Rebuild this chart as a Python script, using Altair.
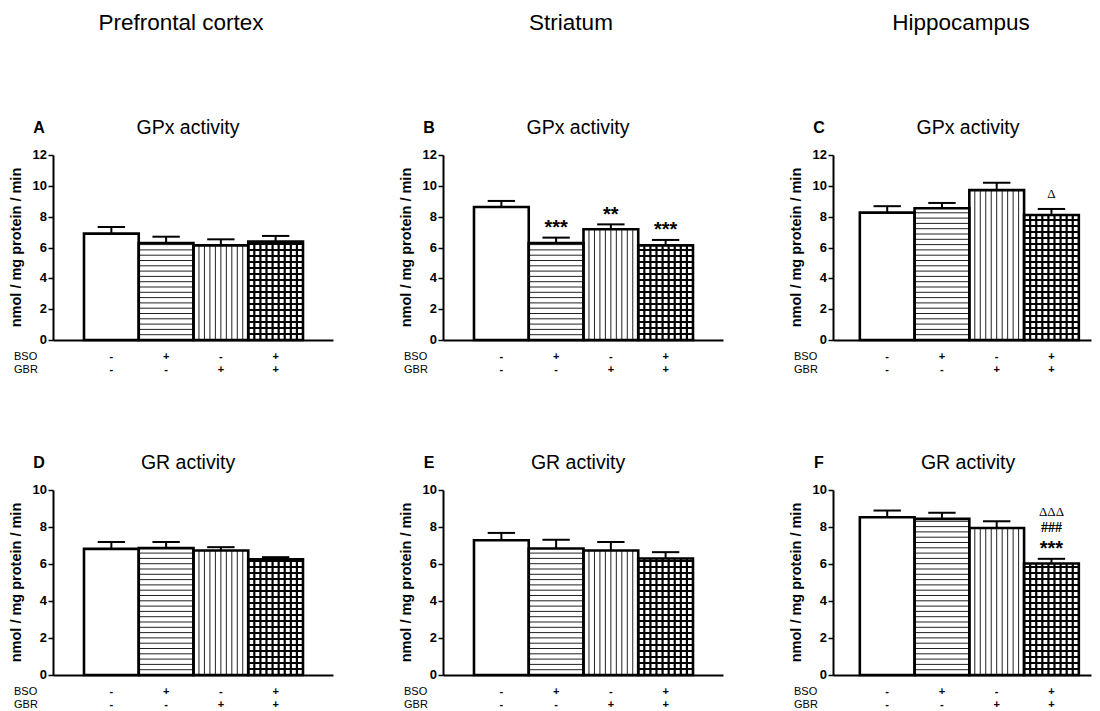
import altair as alt
import pandas as pd

FONT = "Liberation Sans"
SERIF = "Liberation Serif"

# ---- data ----
bso = ["-", "+", "-", "+"]
gbr = ["-", "-", "+", "+"]
regions = ["Prefrontal cortex", "Striatum", "Hippocampus"]
panel_letters = ["A", "B", "C", "D", "E", "F"]
panel_titles = ["GPx activity", "GPx activity", "GPx activity",
                "GR activity", "GR activity", "GR activity"]
y_title = "nmol / mg protein / min"
y_max = [12, 12, 12, 10, 10, 10]
y_ticks_gpx = [0, 2, 4, 6, 8, 10, 12]
y_ticks_gr = [0, 2, 4, 6, 8, 10]
y_ticks = [y_ticks_gpx, y_ticks_gpx, y_ticks_gpx, y_ticks_gr, y_ticks_gr, y_ticks_gr]

gpx_pfc_mean = [6.90, 6.29, 6.14, 6.38]
gpx_pfc_sem = [0.43, 0.41, 0.39, 0.37]
gpx_str_mean = [8.63, 6.29, 7.18, 6.14]
gpx_str_sem = [0.39, 0.35, 0.32, 0.35]
gpx_hip_mean = [8.26, 8.55, 9.72, 8.11]
gpx_hip_sem = [0.42, 0.34, 0.48, 0.39]
gr_pfc_mean = [6.82, 6.86, 6.73, 6.26]
gr_pfc_sem = [0.37, 0.33, 0.18, 0.11]
gr_str_mean = [7.28, 6.84, 6.73, 6.30]
gr_str_sem = [0.40, 0.47, 0.46, 0.34]
gr_hip_mean = [8.53, 8.44, 7.95, 6.03]
gr_hip_sem = [0.36, 0.33, 0.36, 0.25]

means = [gpx_pfc_mean, gpx_str_mean, gpx_hip_mean, gr_pfc_mean, gr_str_mean, gr_hip_mean]
sems = [gpx_pfc_sem, gpx_str_sem, gpx_hip_sem, gr_pfc_sem, gr_str_sem, gr_hip_sem]

# significance marks, bottom line first
annot_B = [["", "***", "**", "***"]]
annot_C = [["", "", "", "\u0394"]]
annot_F = [["", "", "", "***"], ["", "", "", "###"], ["", "", "", "\u0394\u0394\u0394"]]
annotations = [[], annot_B, annot_C, [], [], annot_F]

# ---- layout / style ----
H = 185
BAR_PX = 54.75
col_width = [280, 280, 258]
col_left_gap = [0.566, 0.566, 0.49]
STRIPE_PX = 5.3
GRID_PX = 6.0
V_STRIPES = 10
GRID_COLS = 9


def sym_style(s):
    if "*" in s:
        return dict(font=FONT, fontSize=20, fontWeight="bold", adj=5.5)
    if "#" in s:
        return dict(font=SERIF, fontSize=14, fontWeight="bold", adj=0.5)
    return dict(font=SERIF, fontSize=13, fontWeight="normal", adj=0.4)


def panel(k):
    col = k % 3
    W = col_width[col]
    x0d = -col_left_gap[col]
    xdom = [x0d, x0d + W / BAR_PX]
    ymax = y_max[k]
    m = means[k]
    s = sems[k]
    xs = alt.Scale(domain=xdom, nice=False, zero=False)
    ys = alt.Scale(domain=[0, ymax], nice=False, zero=True)

    bars = pd.DataFrame({
        "x0": [i for i in range(4)],
        "x1": [i + 1 for i in range(4)],
        "xc": [i + 0.5 for i in range(4)],
        "cap0": [i + 0.25 for i in range(4)],
        "cap1": [i + 0.75 for i in range(4)],
        "mean": m,
        "top": [a + b for a, b in zip(m, s)],
        "bso": bso,
        "gbr": gbr,
    })

    # hatch geometry derived from bar values
    st = STRIPE_PX * ymax / H
    gs = GRID_PX * ymax / H
    hs_rows = []
    j = 1
    while j * st < m[1] - 0.02:
        hs_rows.append({"x0": 1, "x1": 2, "y": j * st})
        j += 1
    hg_rows = []
    j = 1
    while j * gs < m[3] - 0.05:
        hg_rows.append({"x0": 3, "x1": 4, "y": j * gs})
        j += 1
    vs_rows = [{"x": 2 + q / V_STRIPES, "y0": 0, "y1": m[2]} for q in range(1, V_STRIPES)]
    vg_rows = [{"x": 3 + q / GRID_COLS, "y0": 0, "y1": m[3]} for q in range(1, GRID_COLS)]

    xaxis = alt.Axis(domain=True, ticks=False, labels=False, grid=False, title=None,
                     domainWidth=2, domainColor="black")
    yaxis = alt.Axis(values=y_ticks[k], grid=False, title=None, labels=False,
                     tickSize=5, tickWidth=1.5, tickColor="black",
                     domainWidth=2, domainColor="black")

    X = lambda f: alt.X(f, scale=xs, axis=xaxis)
    Y = lambda f: alt.Y(f, scale=ys, axis=yaxis)

    base = alt.Chart(bars)
    layers = []
    layers.append(base.mark_rect(fill="white", strokeWidth=0).encode(
        x=X("x0:Q"), x2="x1:Q", y=Y("mean:Q"), y2=alt.datum(0)))
    layers.append(alt.Chart(pd.DataFrame(hs_rows)).mark_rule(color="#222", strokeWidth=1).encode(
        x=X("x0:Q"), x2="x1:Q", y=Y("y:Q")))
    layers.append(alt.Chart(pd.DataFrame(vs_rows)).mark_rule(color="#222", strokeWidth=1).encode(
        x=X("x:Q"), y=Y("y0:Q"), y2="y1:Q"))
    layers.append(alt.Chart(pd.DataFrame(hg_rows)).mark_rule(color="black", strokeWidth=2.2).encode(
        x=X("x0:Q"), x2="x1:Q", y=Y("y:Q")))
    layers.append(alt.Chart(pd.DataFrame(vg_rows)).mark_rule(color="black", strokeWidth=2.2).encode(
        x=X("x:Q"), y=Y("y0:Q"), y2="y1:Q"))
    layers.append(base.mark_rect(fillOpacity=0, stroke="black", strokeWidth=2.6).encode(
        x=X("x0:Q"), x2="x1:Q", y=Y("mean:Q"), y2=alt.datum(0)))
    layers.append(base.mark_rule(color="black", strokeWidth=2).encode(
        x=X("xc:Q"), y=Y("mean:Q"), y2="top:Q"))
    layers.append(base.mark_rule(color="black", strokeWidth=2).encode(
        x=X("cap0:Q"), x2="cap1:Q", y=Y("top:Q")))

    # y tick labels and y title as text
    layers.append(alt.Chart(pd.DataFrame({"v": y_ticks[k]})).mark_text(
        font=FONT, fontSize=13, fontWeight="bold", color="black", align="right",
        baseline="middle").encode(x=alt.value(-6), y=Y("v:Q"), text=alt.Text("v:Q", format="d")))
    layers.append(alt.Chart(pd.DataFrame({"t": [y_title]})).mark_text(
        font=FONT, fontSize=14.5, fontWeight="bold", color="black", align="center",
        baseline="middle", angle=270).encode(x=alt.value(-36), y=alt.value(H / 2), text="t:N"))

    # significance annotations
    for lvl, row in enumerate(annotations[k]):
        df = pd.DataFrame({"xc": [i + 0.5 for i in range(4)], "top": bars["top"], "t": row})
        df = df[df["t"] != ""]
        stl = sym_style(df["t"].iloc[0])
        layers.append(alt.Chart(df).mark_text(
            font=stl["font"], fontSize=stl["fontSize"], fontWeight=stl["fontWeight"],
            baseline="middle", align="center", color="black",
            dy=-(15 + 16 * lvl) + stl["adj"]).encode(
            x=X("xc:Q"), y=Y("top:Q"), text="t:N"))

    # treatment rows under the axis
    layers.append(base.mark_text(font=FONT, fontSize=11, fontWeight="bold", color="black",
                                 baseline="middle").encode(
        x=X("xc:Q"), y=alt.value(H + 17), text="bso:N"))
    layers.append(base.mark_text(font=FONT, fontSize=11, fontWeight="bold", color="black",
                                 baseline="middle").encode(
        x=X("xc:Q"), y=alt.value(H + 30), text="gbr:N"))
    for lab, yy in (("BSO", H + 17), ("GBR", H + 30)):
        layers.append(alt.Chart(pd.DataFrame({"t": [lab]})).mark_text(
            font=FONT, fontSize=11, color="black", align="left", baseline="middle").encode(
            x=alt.value(-39), y=alt.value(yy), text="t:N"))

    # panel letter and title
    layers.append(alt.Chart(pd.DataFrame({"t": [panel_letters[k]]})).mark_text(
        font=FONT, fontSize=16, fontWeight="bold", color="black", align="center",
        baseline="middle").encode(x=alt.value(-14), y=alt.value(-27), text="t:N"))
    layers.append(alt.Chart(pd.DataFrame({"t": [panel_titles[k]]})).mark_text(
        font=FONT, fontSize=19.5, color="black", align="center",
        baseline="middle").encode(x=alt.value(135), y=alt.value(-27), text="t:N"))
    if k < 3:
        layers.append(alt.Chart(pd.DataFrame({"t": [regions[k]]})).mark_text(
            font=FONT, fontSize=22.5, color="black", align="center",
            baseline="middle").encode(x=alt.value(128), y=alt.value(-132), text="t:N"))

    return alt.layer(*layers).properties(width=W, height=H)


chart = alt.concat(*[panel(k) for k in range(6)], columns=3,
                   spacing={"row": 150, "column": 110}, bounds="flush").properties(
    padding={"left": 0, "top": 3, "right": 0, "bottom": 3},
    background="white"
).configure_view(stroke="transparent")

chart.save("out.html", embed_options={"renderer": "svg", "actions": False})
